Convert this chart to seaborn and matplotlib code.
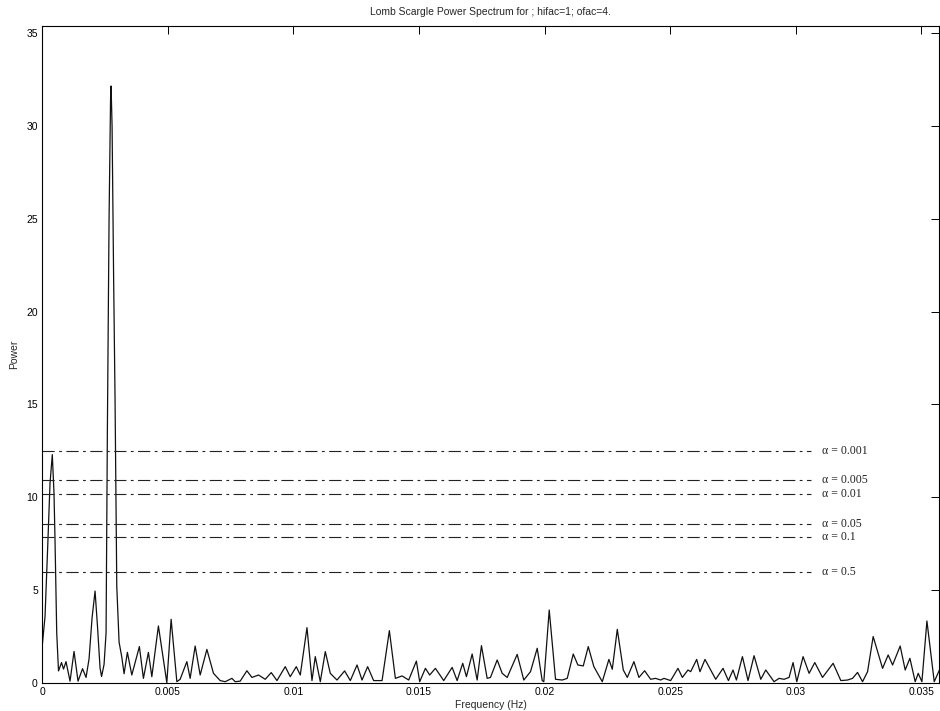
import matplotlib
matplotlib.use("Agg")
import matplotlib.pyplot as plt
from matplotlib.ticker import FuncFormatter
import pandas as pd
import seaborn as sns

# Lomb-Scargle periodogram (frequency in Hz, normalised power)
freq_hz = [
    0.000000, 0.000120, 0.000227, 0.000319, 0.000410, 0.000478, 0.000518, 0.000586,
    0.000657, 0.000777, 0.000857, 0.000956, 0.001116, 0.001275, 0.001434, 0.001614,
    0.001753, 0.001873, 0.001992, 0.002112, 0.002211, 0.002311, 0.002371, 0.002470,
    0.002550, 0.002602, 0.002669, 0.002729, 0.002749, 0.002789, 0.002849, 0.002908,
    0.002976, 0.003068, 0.003175, 0.003267, 0.003398, 0.003574, 0.003876, 0.004036,
    0.004235, 0.004371, 0.004633, 0.004968, 0.005139, 0.005367, 0.005498, 0.005765,
    0.005896, 0.006096, 0.006295, 0.006562, 0.006825, 0.007092, 0.007291, 0.007558,
    0.007689, 0.007888, 0.008155, 0.008355, 0.008618, 0.008884, 0.009124, 0.009351,
    0.009681, 0.009880, 0.010120, 0.010279, 0.010546, 0.010745, 0.010876, 0.011076,
    0.011275, 0.011474, 0.011741, 0.012044, 0.012271, 0.012538, 0.012737, 0.012960,
    0.013199, 0.013534, 0.013825, 0.014064, 0.014331, 0.014594, 0.014900, 0.015032,
    0.015259, 0.015430, 0.015657, 0.015988, 0.016323, 0.016522, 0.016745, 0.016892,
    0.017120, 0.017319, 0.017490, 0.017717, 0.017849, 0.018116, 0.018315, 0.018514,
    0.018912, 0.019175, 0.019442, 0.019709, 0.019908, 0.019972, 0.020187, 0.020438,
    0.020705, 0.020904, 0.021143, 0.021327, 0.021542, 0.021741, 0.021964, 0.022299,
    0.022562, 0.022697, 0.022896, 0.023135, 0.023295, 0.023558, 0.023757, 0.023984,
    0.024223, 0.024422, 0.024622, 0.024753, 0.025020, 0.025311, 0.025486, 0.025709,
    0.025817, 0.026056, 0.026187, 0.026386, 0.026614, 0.026813, 0.027104, 0.027319,
    0.027502, 0.027637, 0.027876, 0.028100, 0.028339, 0.028606, 0.028805, 0.029135,
    0.029335, 0.029534, 0.029733, 0.029892, 0.030040, 0.030291, 0.030530, 0.030757,
    0.031064, 0.031486, 0.031793, 0.032060, 0.032259, 0.032458, 0.032657, 0.032857,
    0.033080, 0.033319, 0.033454, 0.033677, 0.033853, 0.034155, 0.034355, 0.034542,
    0.034753, 0.034873, 0.035020, 0.035219, 0.035510, 0.035777,
]
power = [
    1.87, 3.57, 7.34, 10.75, 12.30, 10.20, 7.70, 2.70,
    0.65, 1.10, 0.75, 1.15, 0.10, 1.70, 0.10, 0.77,
    0.30, 1.30, 3.50, 4.95, 3.00, 0.80, 0.35, 1.00,
    2.70, 13.60, 25.00, 31.50, 32.15, 30.00, 22.00, 15.20,
    5.20, 2.20, 1.40, 0.50, 1.65, 0.43, 1.96, 0.25,
    1.65, 0.34, 3.07, 0.02, 3.43, 0.07, 0.20, 1.15,
    0.25, 1.99, 0.43, 1.81, 0.52, 0.13, 0.07, 0.25,
    0.07, 0.10, 0.66, 0.30, 0.43, 0.20, 0.56, 0.13,
    0.88, 0.34, 0.88, 0.43, 2.98, 0.13, 1.42, 0.07,
    1.69, 0.52, 0.16, 0.65, 0.13, 0.97, 0.16, 0.88,
    0.13, 0.13, 2.82, 0.25, 0.38, 0.16, 1.18, 0.07,
    0.79, 0.43, 0.79, 0.13, 0.84, 0.13, 1.06, 0.34,
    1.56, 0.16, 2.01, 0.25, 0.30, 1.24, 0.52, 0.30,
    1.54, 0.16, 0.61, 1.87, 0.13, 0.07, 3.93, 0.20,
    0.16, 0.25, 1.56, 0.97, 0.92, 1.96, 0.88, 0.07,
    1.27, 0.74, 2.89, 0.70, 0.30, 1.15, 0.30, 0.66,
    0.20, 0.25, 0.16, 0.25, 0.13, 0.79, 0.30, 0.70,
    0.61, 1.27, 0.61, 1.27, 0.70, 0.20, 0.79, 0.13,
    0.70, 0.16, 1.42, 0.13, 1.47, 0.20, 0.70, 0.07,
    0.25, 0.20, 0.30, 1.10, 0.07, 1.42, 0.52, 1.10,
    0.30, 1.06, 0.13, 0.16, 0.25, 0.57, 0.07, 0.61,
    2.50, 1.42, 0.79, 1.51, 0.97, 1.99, 0.70, 1.33,
    0.07, 0.52, 0.07, 3.34, 0.07, 0.88,
]

# False-alarm significance levels and their power thresholds
alpha_levels = ["0.001", "0.005", "0.01", "0.05", "0.1", "0.5"]
alpha_power = [12.51, 10.91, 10.19, 8.58, 7.88, 5.98]

x_ticks = [0, 0.005, 0.01, 0.015, 0.02, 0.025, 0.03, 0.035]
y_ticks = [0, 5, 10, 15, 20, 25, 30, 35]

sns.set_style("white")
plt.rcParams["font.family"] = ["Liberation Sans", "DejaVu Sans"]

fig = plt.figure(figsize=(9.40, 7.11), dpi=100)
ax = fig.add_axes([42 / 940, 1 - 683 / 711, 897 / 940, (683 - 26) / 711])

df = pd.DataFrame({"Frequency": freq_hz, "Power": power})
sns.lineplot(data=df, x="Frequency", y="Power", ax=ax, color="#111111",
             linewidth=0.9, sort=False, estimator=None)

x_max = 0.0357
line_end = 0.0306
label_x = 0.03105
for lvl, p in zip(alpha_levels, alpha_power):
    ax.plot([0, line_end], [p, p], color="#222222", linewidth=0.8,
            linestyle=(0, (11, 4, 2.5, 4)))
    ax.text(label_x, p, f"\u03b1 = {lvl}", fontsize=8.5, va="center", ha="left",
            family=["Liberation Serif", "DejaVu Serif"], color="#222222")

ax.set_xlim(0, x_max)
ax.set_ylim(0, 35.38)
ax.set_xticks(x_ticks)
ax.set_yticks(y_ticks)
ax.xaxis.set_major_formatter(FuncFormatter(lambda v, _: f"{v:g}"))
ax.tick_params(direction="in", length=6, width=0.7, top=True, right=True,
               labelsize=7.5, pad=3, colors="black")
for s in ax.spines.values():
    s.set_color("black")
    s.set_linewidth(0.8)

ax.set_xlabel("Frequency (Hz)", fontsize=7.5, labelpad=2)
ax.set_ylabel("Power", fontsize=7.5, labelpad=5)
ax.set_title("Lomb Scargle Power Spectrum for ; hifac=1; ofac=4.", fontsize=7.5, pad=8)

fig.savefig("out.png", dpi=100, facecolor="white")
